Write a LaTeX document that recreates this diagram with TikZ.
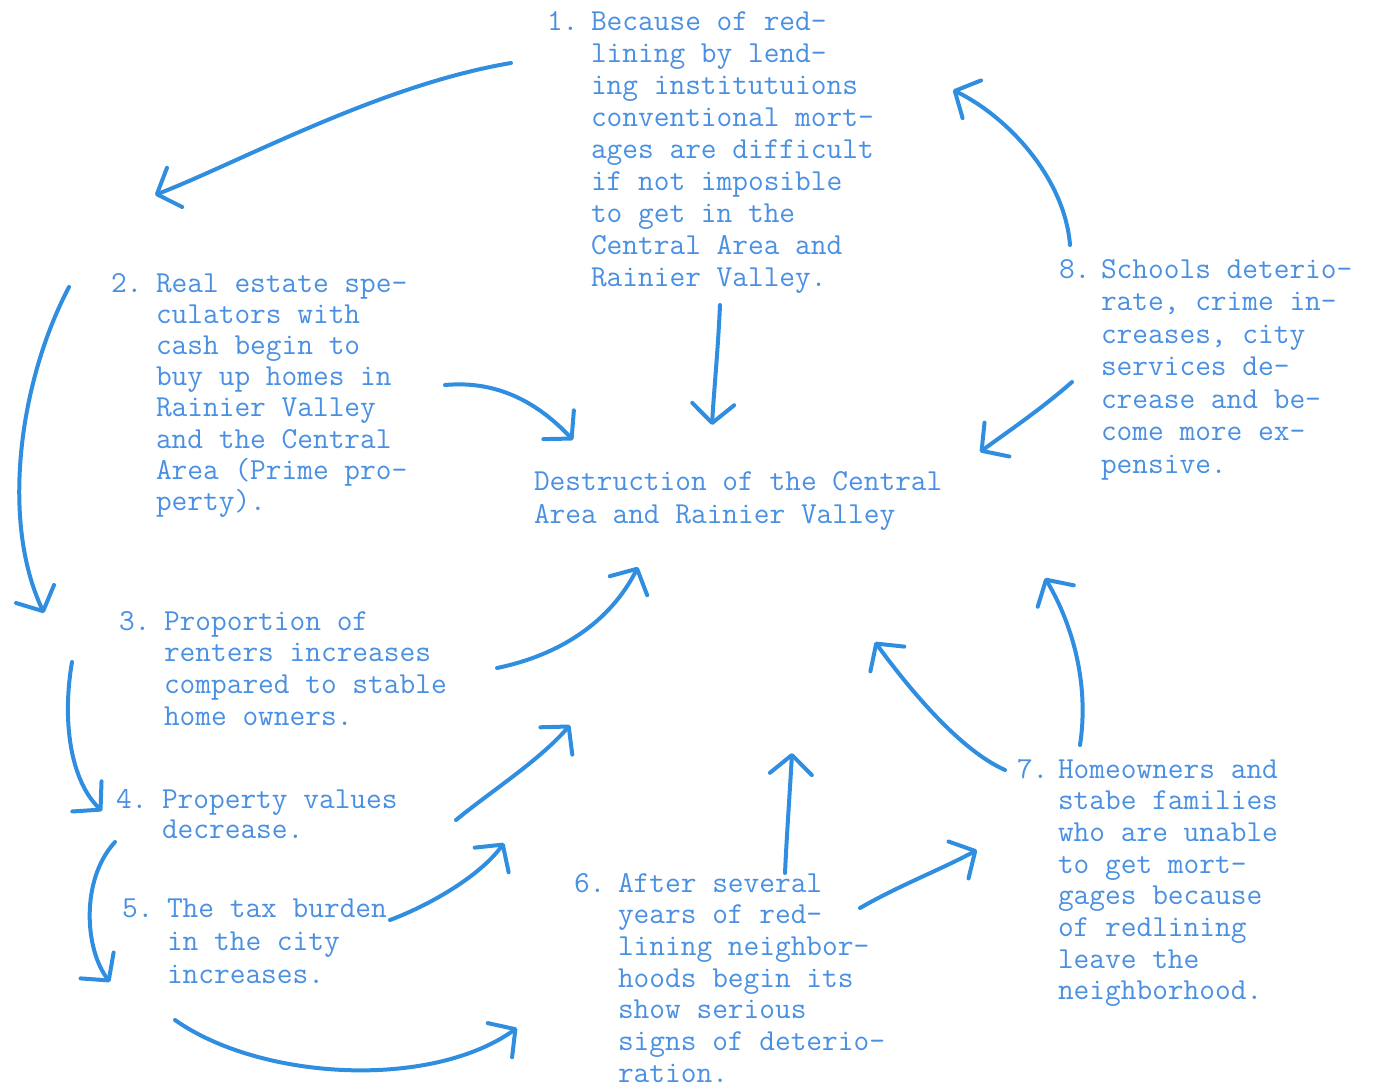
\documentclass[tikz,border=0pt]{standalone}
\usetikzlibrary{arrows.meta}
\definecolor{txtblue}{RGB}{74,144,226}
\definecolor{penblue}{RGB}{48,142,224}
\newcommand\typeblock[2]{{\baselineskip=#1pt\vtop{\halign{##\hfil\cr#2\crcr}}}}
\begin{document}
\begin{tikzpicture}[x=1pt,y=-1pt,
  typed/.style={anchor=base west,inner sep=0pt,outer sep=0pt,text=txtblue,
    font=\fontsize{30.5}{32}\selectfont\ttfamily},
  pen/.style={draw=penblue,line width=4pt,line cap=round,line join=round,
    -{Straight Barb[length=19pt,width=42pt,round]}}]
\useasboundingbox[fill=white] (0,0) rectangle (1393,1087);

% numbers
\node[typed] (n1) at (547,30) {1.};
\node[typed] (n2) at (111,292) {2.};
\node[typed] (n3) at (119,630) {3.};
\node[typed] (n4) at (116,808) {4.};
\node[typed] (n5) at (122,917) {5.};
\node[typed] (n6) at (574,892) {6.};
\node[typed] (n7) at (1017,778) {7.};
\node[typed] (n8) at (1059,278) {8.};

% texts
\node[typed] (t1) at (591,30) {\typeblock{32.1}{Because of red-\cr lining by lend-\cr ing institutuions\cr conventional mort-\cr ages are difficult\cr if not imposible\cr to get in the\cr Central Area and\cr Rainier Valley.}};
\node[typed] (t2) at (156,292) {\typeblock{31.2}{Real estate spe-\cr culators with\cr cash begin to\cr buy up homes in\cr Rainier Valley\cr and the Central\cr Area (Prime pro-\cr perty).}};
\node[typed] (t3) at (164,630) {\typeblock{31.7}{Proportion of\cr renters increases\cr compared to stable\cr home owners.}};
\node[typed] (t4) at (162,808) {\typeblock{30.5}{Property values\cr decrease.}};
\node[typed] (t5) at (167,917) {\typeblock{33}{The tax burden\cr in the city\cr increases.}};
\node[typed] (t6) at (618,892) {\typeblock{31.7}{After several\cr years of red-\cr lining neighbor-\cr hoods begin its\cr show serious\cr signs of deterio-\cr ration.}};
\node[typed] (t7) at (1058,778) {\typeblock{31.7}{Homeowners and\cr stabe families\cr who are unable\cr to get mort-\cr gages because\cr of redlining\cr leave the\cr neighborhood.}};
\node[typed] (t8) at (1101,278) {\typeblock{32.5}{Schools deterio-\cr rate, crime in-\cr creases, city\cr services de-\cr crease and be-\cr come more ex-\cr pensive.}};
\node[typed] (c) at (534,490) {\typeblock{33}{Destruction of the Central\cr Area and Rainier Valley}};

% connector end points
\coordinate (As) at (511,63);   \coordinate (Ae) at (155,195);
\coordinate (Bs) at (69,287);   \coordinate (Be) at (44,613);
\coordinate (Cs) at (445,385);  \coordinate (Ce) at (573,440);
\coordinate (Ds) at (720,305);  \coordinate (De) at (712,425);
\coordinate (Es) at (1070,245); \coordinate (Ee) at (953,90);
\coordinate (Fs) at (1072,382); \coordinate (Fe) at (980,452);
\coordinate (Gs) at (497,668);  \coordinate (Ge) at (638,567);
\coordinate (Hs) at (72,662);   \coordinate (He) at (102,811);
\coordinate (Is) at (456,820);  \coordinate (Ie) at (570,725);
\coordinate (Js) at (115,842);  \coordinate (Je) at (110,982);
\coordinate (Ks) at (390,920);  \coordinate (Ke) at (504,843);
\coordinate (Ls) at (175,1020); \coordinate (Le) at (517,1028);
\coordinate (Ms) at (785,873);  \coordinate (Me) at (792,753);
\coordinate (Ns) at (860,908);  \coordinate (Ne) at (977,850);
\coordinate (Os) at (1005,770); \coordinate (Oe) at (875,642);
\coordinate (Ps) at (1080,745); \coordinate (Pe) at (1045,578);

% connectors
\draw[pen] (As) .. controls (380,85) and (240,162) .. (Ae);
\draw[pen] (Bs) .. controls (20,380) and (0,520) .. (Be);
\draw[pen] (Cs) .. controls (500,380) and (540,405) .. (Ce);
\draw[pen] (Ds) .. controls (718,350) and (714,390) .. (De);
\draw[pen] (Es) .. controls (1065,180) and (1010,118) .. (Ee);
\draw[pen] (Fs) .. controls (1040,410) and (1010,430) .. (Fe);
\draw[pen] (Gs) .. controls (560,655) and (610,622) .. (Ge);
\draw[pen] (Hs) .. controls (62,720) and (70,780) .. (He);
\draw[pen] (Is) .. controls (490,792) and (540,760) .. (Ie);
\draw[pen] (Js) .. controls (80,880) and (85,950) .. (Je);
\draw[pen] (Ks) .. controls (430,905) and (480,876) .. (Ke);
\draw[pen] (Ls) .. controls (260,1080) and (430,1090) .. (Le);
\draw[pen] (Ms) .. controls (787,830) and (790,790) .. (Me);
\draw[pen] (Ns) .. controls (900,885) and (940,870) .. (Ne);
\draw[pen] (Os) .. controls (960,750) and (910,690) .. (Oe);
\draw[pen] (Ps) .. controls (1090,680) and (1070,620) .. (Pe);
\end{tikzpicture}
\end{document}
